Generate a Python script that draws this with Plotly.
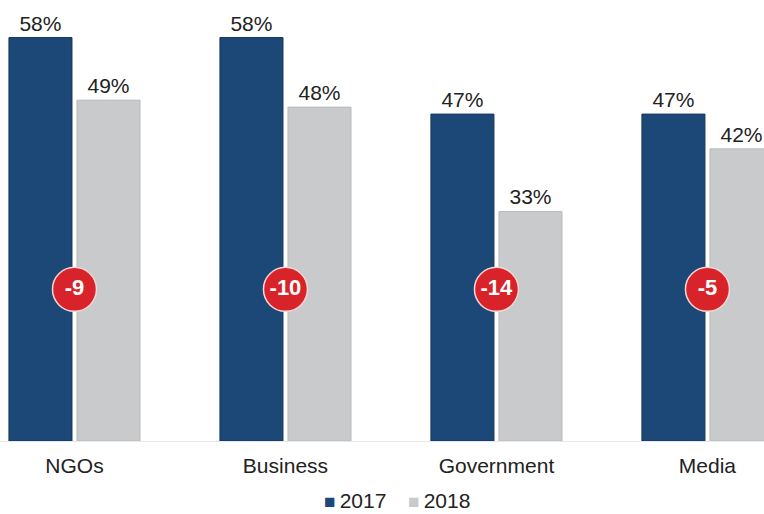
import plotly.graph_objects as go

# Trust levels by institution, two survey years
categories = ["NGOs", "Business", "Government", "Media"]
trust_2017 = [58, 58, 47, 47]
trust_2018 = [49, 48, 33, 42]
years = ["2017", "2018"]

BLUE = "#1c4877"
GRAY = "#c9cacc"
RED = "#d8232a"
FONT = "Arial, Liberation Sans, sans-serif"

# Year-over-year change shown in the red badges
changes = [b - a for a, b in zip(trust_2017, trust_2018)]

fig = go.Figure()

fig.add_trace(go.Bar(
    x=categories, y=trust_2017, name=years[0],
    marker=dict(color=BLUE, line=dict(color="#14365c", width=1)),
    text=[f"{v}%" for v in trust_2017], textposition="outside",
    textfont=dict(family=FONT, size=21, color="#222222"),
    cliponaxis=False, showlegend=False,
))
fig.add_trace(go.Bar(
    x=categories, y=trust_2018, name=years[1],
    marker=dict(color=GRAY, line=dict(color="#b9babc", width=1)),
    text=[f"{v}%" for v in trust_2018], textposition="outside",
    textfont=dict(family=FONT, size=21, color="#222222"),
    cliponaxis=False, showlegend=False,
))

# Change badges sit on the seam between each pair of bars
badge_level = 21.8
fig.add_trace(go.Scatter(
    x=categories, y=[badge_level] * len(categories),
    mode="markers+text",
    marker=dict(size=44, color=RED, line=dict(color="#f4d6d6", width=1.5)),
    text=[f"<b>{c}</b>" for c in changes],
    textposition="middle center",
    textfont=dict(family=FONT, size=22, color="white"),
    showlegend=False, cliponaxis=False,
))

fig.update_layout(
    width=764, height=514,
    margin=dict(l=0, r=0, t=0, b=73),
    paper_bgcolor="white", plot_bgcolor="white",
    barmode="group", bargap=0.355, bargroupgap=0.0735,
    font=dict(family=FONT, color="#222222"),
    xaxis=dict(
        range=[-0.353, 3.268], showgrid=False, showline=False,
        tickfont=dict(family=FONT, size=21, color="#222222"),
        ticks="", ticklabelstandoff=10,
    ),
    yaxis=dict(
        range=[0, 63.4], showgrid=False, showticklabels=False,
        zeroline=True, zerolinecolor="#e8e8e8", zerolinewidth=1,
    ),
    showlegend=False,
)

# Legend row under the category labels
legend_x = [0.4215, 0.5315]
for yr, col, lx in zip(years, [BLUE, GRAY], legend_x):
    fig.add_annotation(
        xref="paper", yref="paper", x=lx, y=-0.136,
        xanchor="left", yanchor="middle", showarrow=False,
        text=f"<span style='color:{col};font-size:19px'>■</span>\u2009{yr}",
        font=dict(family=FONT, size=21, color="#222222"),
    )

fig.write_html("out.html")
